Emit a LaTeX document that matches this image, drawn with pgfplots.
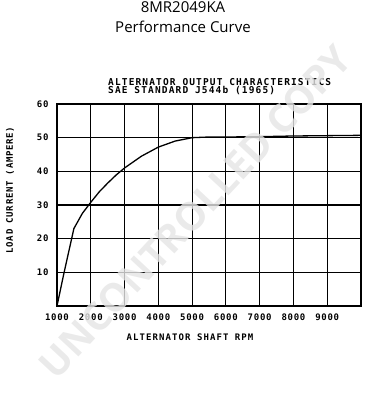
\documentclass[border=0pt]{standalone}
\usepackage{fontspec}
\usepackage{pgfplots}
\pgfplotsset{compat=1.18}
\setmainfont{Open Sans}
\newfontfamily\plotfont[LetterSpace=8]{DejaVu Sans Mono}
\newfontfamily\plotfontwide[LetterSpace=12]{DejaVu Sans Mono}
\newfontfamily\wmfont{Open Sans}
\begin{document}
\begin{tikzpicture}[x=1pt,y=1pt]
\path[use as bounding box] (0,0) rectangle (366,-400);
\node[font=\fontsize{15}{16}\selectfont, anchor=base, inner sep=0] at (183,-12) {8MR2049KA};
\node[font=\fontsize{15}{16}\selectfont, anchor=base, inner sep=0] at (183,-32) {Performance Curve};
\node[font=\plotfontwide\bfseries\fontsize{9.5}{10}\selectfont, anchor=base west, inner sep=0] at (108,-85) {ALTERNATOR OUTPUT CHARACTERISTICS};
\node[font=\plotfontwide\bfseries\fontsize{9.5}{10}\selectfont, anchor=base west, inner sep=0] at (108,-93.5) {SAE STANDARD J544b (1965)};
\begin{axis}[
  at={(57pt,-306pt)}, anchor=south west,
  scale only axis, width=304pt, height=202pt,
  xmin=1000, xmax=10000, ymin=0, ymax=60,
  xtick={1000,2000,...,9000}, ytick={10,20,...,60},
  scaled x ticks=false,
  grid=major, grid style={black, line width=1.1pt},
  axis line style={line width=1.1pt},
  major tick length=0pt,
  tick label style={font=\plotfont\bfseries\fontsize{9}{10}\selectfont},
  /pgf/number format/assume math mode=true,
  /pgf/number format/set thousands separator={},
  xticklabel style={yshift=-4pt},
  yticklabel style={xshift=-5pt},
]
\addplot[black, line width=1.3pt] coordinates {
(1000,0) (1200,9.5) (1500,23) (1750,27.5) (2000,30.8) (2250,33.9) (2500,36.5) (2750,38.9) (3000,41) (3500,44.5) (4000,47.2) (4500,49) (5000,50) (5500,50.2) (6000,50.2) (7000,50.3) (8000,50.5) (9000,50.6) (10000,50.7)
};
\end{axis}
\node[rotate=90, font=\plotfont\bfseries\fontsize{9}{10}\selectfont] at (10,-190) {LOAD CURRENT (AMPERE)};
\node[font=\plotfontwide\bfseries\fontsize{9}{10}\selectfont] at (190,-337) {ALTERNATOR SHAFT RPM};
\node[rotate=47, font=\wmfont\bfseries\fontsize{39}{40}\selectfont, text=gray!20, opacity=0.8] at (195,-212) {UNCONTROLLED COPY};
\end{tikzpicture}
\end{document}
